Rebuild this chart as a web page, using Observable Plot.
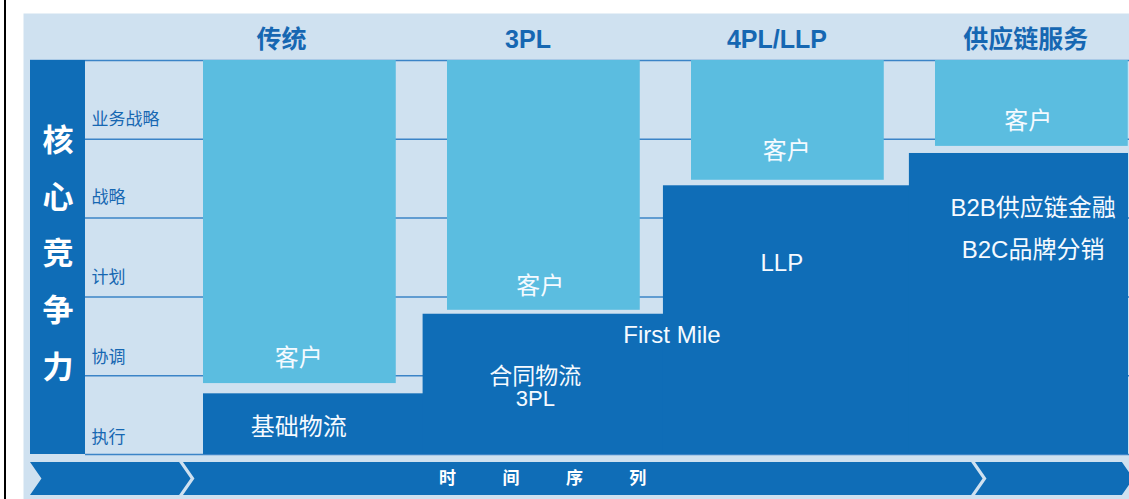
<!DOCTYPE html>
<html>
<head>
<meta charset="utf-8">
<script src="https://cdn.jsdelivr.net/npm/d3@7"></script>
<script src="https://cdn.jsdelivr.net/npm/@observablehq/plot@0.6"></script>
<style>
  html, body { margin: 0; padding: 0; background: #fff; }
  #wrap { position: relative; width: 1129px; height: 499px; overflow: hidden; }
  #edge { position: absolute; left: 4px; top: 0; width: 2px; height: 499px; background: #000; }
  svg { display: block; }
</style>
</head>
<body>
<div id="wrap"><div id="edge"></div></div>
<script>
// ---------- data (stage units on x: one stage = one column; levels on y: one level = one row) ----------
const stages = ["传统", "3PL", "4PL/LLP", "供应链服务"];
const headerStage = [0.32, 1.33, 2.35, 3.37];
const levels = ["执行", "协调", "计划", "战略", "业务战略"];
const levelLabelPos = [0.22, 1.23, 2.25, 3.26, 4.25];

const clientLabel = "客户";
const clientFloor = [0.90, 1.83, 3.48, 3.91];      // level at which the client's own part begins
const clientLabelStage = [0.39, 1.38, 2.39, 3.38];
const clientLabelLevel = [1.22, 2.13, 3.85, 4.23];

const serviceStart = [0.00, 0.90, 1.885, 2.893];   // where the provider's block starts
const serviceCeil = [0.77, 1.78, 3.41, 3.82];      // how high the provider's service reaches

const serviceText = ["基础物流", "合同物流", "3PL", "First Mile", "LLP", "B2B供应链金融", "B2C品牌分销"];
const serviceTextStage = [0.39, 1.36, 1.36, 1.92, 2.37, 3.40, 3.40];
const serviceTextLevel = [0.34, 0.99, 0.70, 1.51, 2.42, 3.13, 2.59];
const serviceTextSize = [24, 23, 22, 24, 24, 24, 24];

const coreLabel = ["核", "心", "竞", "争", "力"];
const coreLabelLevel = [3.98, 3.26, 2.54, 1.82, 1.10];

const timeLabel = ["时", "间", "序", "列"];
const timeLabelStage = [1.00, 1.26, 1.52, 1.78];

const arrowStart = [-0.709, -0.082, 3.164];
const arrowEnd = [-0.098, 3.148, 3.766];

// ---------- layout helpers ----------
const X0 = 203, SW = 244, Y0 = 454, RH = 78.8;
const ux = px => (px - X0) / SW;
const ly = py => (Y0 - py) / RH;
const RIGHT = ux(1128);

const PANEL = "#cfe1f0", DARK = "#0f6db7", LIGHT = "#5bbde0", GRID = "#3b84c7", TITLE = "#1667b2";
const FONT = "'Liberation Sans', 'Noto Sans CJK SC', sans-serif";

const idx = stages.map((_, i) => i);

const clientBoxes = idx.map(i => ({x1: i, x2: i + 0.79, y1: clientFloor[i], y2: 5}));
const serviceBoxes = idx.map(i => ({x1: serviceStart[i], x2: RIGHT, y1: 0, y2: serviceCeil[i]}));
const coreColumn = [{x1: ux(30), x2: ux(85), y1: 0, y2: 5}];

const gridLines = [
  {y: 0, x1: ux(85), x2: RIGHT + 0.01},
  {y: 1, x1: ux(85), x2: RIGHT + 0.01},
  {y: 2, x1: ux(85), x2: RIGHT + 0.01},
  {y: 3, x1: ux(85), x2: RIGHT + 0.01},
  {y: 4, x1: ux(85), x2: RIGHT + 0.01},
  {y: 5, x1: ux(30), x2: RIGHT + 0.01}
];

const aTop = ly(462), aBot = ly(495), aMid = (aTop + aBot) / 2, notch = 0.047;
const arrowPts = [];
arrowStart.forEach((s, k) => {
  const e = arrowEnd[k];
  arrowPts.push({seg: k, y: aTop, x1: s, x2: e});
  arrowPts.push({seg: k, y: aMid, x1: s + notch, x2: e + notch});
  arrowPts.push({seg: k, y: aBot, x1: s, x2: e});
});

const chart = Plot.plot({
  width: 1129,
  height: 499,
  marginLeft: 23,
  marginTop: 13,
  marginRight: 0,
  marginBottom: 0,
  x: {domain: [ux(23), ux(1129)], axis: null},
  y: {domain: [ly(499), ly(13)], axis: null},
  style: {background: "transparent", fontFamily: FONT},
  marks: [
    Plot.frame({fill: PANEL}),
    Plot.ruleY(gridLines, {y: "y", x1: "x1", x2: "x2", stroke: GRID, strokeWidth: 1.5}),
    Plot.rect(coreColumn, {x1: "x1", x2: "x2", y1: "y1", y2: "y2", fill: DARK}),
    Plot.rect(serviceBoxes, {x1: "x1", x2: "x2", y1: "y1", y2: "y2", fill: DARK}),
    Plot.rect(clientBoxes, {x1: "x1", x2: "x2", y1: "y1", y2: "y2", fill: LIGHT}),
    Plot.areaX(arrowPts, {y: "y", x1: "x1", x2: "x2", z: "seg", fill: DARK, curve: "linear"}),
    // header titles
    Plot.text(idx, {x: i => headerStage[i], y: ly(39), text: i => stages[i], fill: TITLE,
      fontSize: 25, fontWeight: "bold"}),
    // row labels
    Plot.text(levels, {x: ux(91), y: (d, i) => levelLabelPos[i], text: d => d, fill: TITLE,
      fontSize: 17, textAnchor: "start"}),
    // core competence
    Plot.text(coreLabel, {x: ux(57.5), y: (d, i) => coreLabelLevel[i], text: d => d, fill: "#ffffff",
      fontSize: 31, fontWeight: "bold"}),
    // client labels
    Plot.text(idx, {x: i => clientLabelStage[i], y: i => clientLabelLevel[i], text: () => clientLabel,
      fill: "#f5faff", fontSize: 24}),
    // service labels (one mark per label so each can carry its own size)
    ...serviceText.map((t, i) => Plot.text([t], {x: () => serviceTextStage[i], y: () => serviceTextLevel[i],
      text: d => d, fill: "#f5faff", fontSize: serviceTextSize[i]})),
    // time axis label
    Plot.text(timeLabel, {x: (d, i) => timeLabelStage[i], y: aMid, text: d => d, fill: "#ffffff",
      fontSize: 17, fontWeight: "bold"})
  ]
});
document.getElementById("wrap").appendChild(chart);
</script>
</body>
</html>
